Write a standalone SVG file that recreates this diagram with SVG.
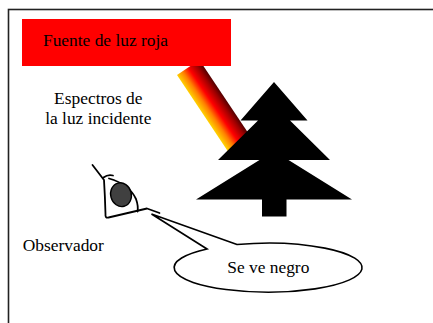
<svg xmlns="http://www.w3.org/2000/svg" width="433" height="323" viewBox="0 0 433 323">
  <style>
    text { font-family: "Liberation Serif", "Times New Roman", serif; font-size: 17.4px; fill: #000; }
    .ink { fill: none; stroke: #000; stroke-width: 1.8; stroke-linecap: round; stroke-linejoin: round; }
  </style>
  <defs>
    <!-- colour ramp across the width of the light beam -->
    <linearGradient id="beamGrad" gradientUnits="userSpaceOnUse" x1="177" y1="75" x2="199.4" y2="59.9">
      <stop offset="0" stop-color="#FFD000"/>
      <stop offset="0.25" stop-color="#FF8000"/>
      <stop offset="0.5" stop-color="#FF0000"/>
      <stop offset="0.8" stop-color="#A00000"/>
      <stop offset="1" stop-color="#500000"/>
    </linearGradient>
  </defs>

  <rect width="433" height="323" fill="#fff"/>
  <!-- outer frame (only top and left edges fall inside the view) -->
  <rect x="8.5" y="9.5" width="500" height="400" fill="none" stroke="#222" stroke-width="1.6"/>

  <!-- light beam -->
  <g id="beam">
    <polygon points="177,75 199.4,59.9 254.9,143.1 232.5,158.2" fill="url(#beamGrad)"/>
  </g>

  <!-- red light source -->
  <g id="source">
    <rect x="22" y="19" width="209" height="47" fill="#FF0000"/>
    <text x="43" y="45.5">Fuente de luz roja</text>
  </g>

  <!-- tree -->
  <g id="tree">
    <polygon fill="#000" points="274,82 307.5,120.5 290,120.5 330,160 288.5,160 352,199.5 286.5,199.5 286.5,216.5 262,216.5 262,199.5 196,199.5 259.5,160 218,160 258,120.5 240.5,120.5"/>
  </g>

  <!-- caption for the beam -->
  <g id="spectrum-label">
    <text x="98.3" y="104" text-anchor="middle">Espectros de</text>
    <text x="98.3" y="123.5" text-anchor="middle">la luz incidente</text>
  </g>

  <!-- observer's eye -->
  <g id="eye">
    <path class="ink" d="M92.5,165 L104,180 Q105,196 105.5,214 Q105,218.5 108.5,217.5 L147,208.5 L159.5,213"/>
    <path class="ink" d="M103.5,177.5 Q108,174 113,175.5"/>
    <path class="ink" d="M109,178.5 Q129,184 136,199 Q138.5,206 137.5,211.5"/>
    <ellipse cx="121" cy="194.7" rx="10.3" ry="12" transform="rotate(-15 121 194.7)" fill="#404040" stroke="#000" stroke-width="1.4"/>
    <text x="22.7" y="250.7">Observador</text>
  </g>

  <!-- speech bubble -->
  <g id="connectors">
    <path d="M237,244.5 L151.5,214 L207,249 A94 24.5 0 1 0 237,244.5 Z" fill="#fff" stroke="#000" stroke-width="1.6" stroke-linejoin="miter"/>
  </g>
  <g id="bubble">
    <text x="268.3" y="272.7" text-anchor="middle">Se ve negro</text>
  </g>
</svg>
